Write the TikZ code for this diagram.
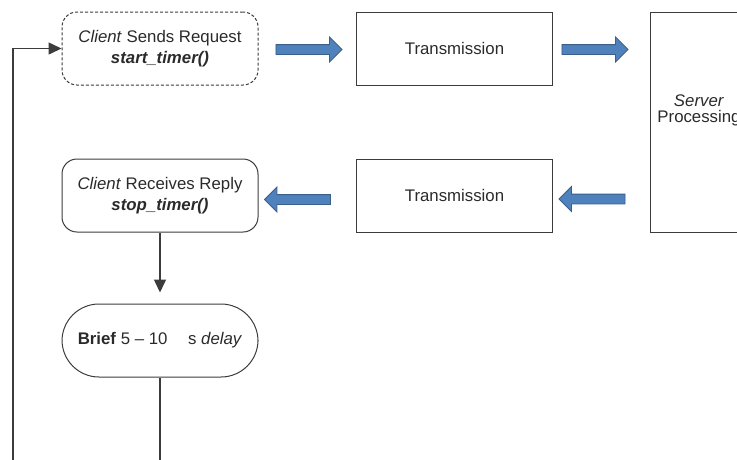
\documentclass[tikz,border=0pt]{standalone}
\usepackage{fontspec}
\setmainfont{Liberation Sans}
\usetikzlibrary{shapes.arrows,arrows.meta}
\definecolor{boxline}{HTML}{3C3C3C}
\definecolor{boxtext}{HTML}{2A2A2A}
\definecolor{flowblue}{HTML}{4F81BD}
\definecolor{flowedge}{HTML}{3A5F8B}
\tikzset{
  stage/.style={draw=boxline, line width=1pt, minimum width=196pt, minimum height=73pt,
    align=center, text=boxtext, font=\fontsize{16.8}{20.5}\selectfont, inner sep=0pt},
  clientbox/.style={stage, rounded corners=15pt},
  pipe/.style={single arrow, draw=flowedge, fill=flowblue, line width=0.8pt,
    minimum height=66pt, minimum width=24pt, single arrow head extend=7.5pt, inner sep=4.5pt},
  flow/.style={draw=boxline, line width=1.5pt, -{Triangle[length=13pt,width=12pt]}}
}
\begin{document}
\begin{tikzpicture}[x=1pt, y=-1pt]
\useasboundingbox (0,0) rectangle (737,459);
\clip (0,0) rectangle (737,459);
% top row
\node[clientbox, dash pattern=on 3pt off 2pt] (send) at (160,48.5) {\textit{Client} Sends Request\\\textbf{\textit{start\_timer()}}};
\node[stage] (trans1) at (454.5,48.5) {Transmission};
\node[stage, minimum width=98pt, minimum height=220pt] (server) at (699,122) {};
\node[text=boxtext, align=center, font=\fontsize{16.8}{16}\selectfont] (serverlabel) at (699,110) {\textit{Server}\\Processing};
\node[pipe] (p1) at (306.5,49.5) {};
\node[pipe] (p2) at (592.5,49.5) {};
% second row
\node[clientbox] (recv) at (160,195.5) {\textit{Client} Receives Reply\\\textbf{\textit{stop\_timer()}}};
\node[stage] (trans2) at (454.5,195.5) {Transmission};
\node[pipe, shape border rotate=180] (p3) at (300,199.5) {};
\node[pipe, shape border rotate=180] (p4) at (594.5,199) {};
% delay and loop back
\node[clientbox, rounded corners=37pt] (delay) at (160,340.5) {\textbf{Brief} 5 -- 10\hspace{16pt} s \textit{delay}};
\coordinate (loop) at (13,490);
\draw[flow, shorten >=11pt] (recv) -- (delay);
\draw[flow] (delay.south) |- (loop) |- (send.west);
\end{tikzpicture}
\end{document}
